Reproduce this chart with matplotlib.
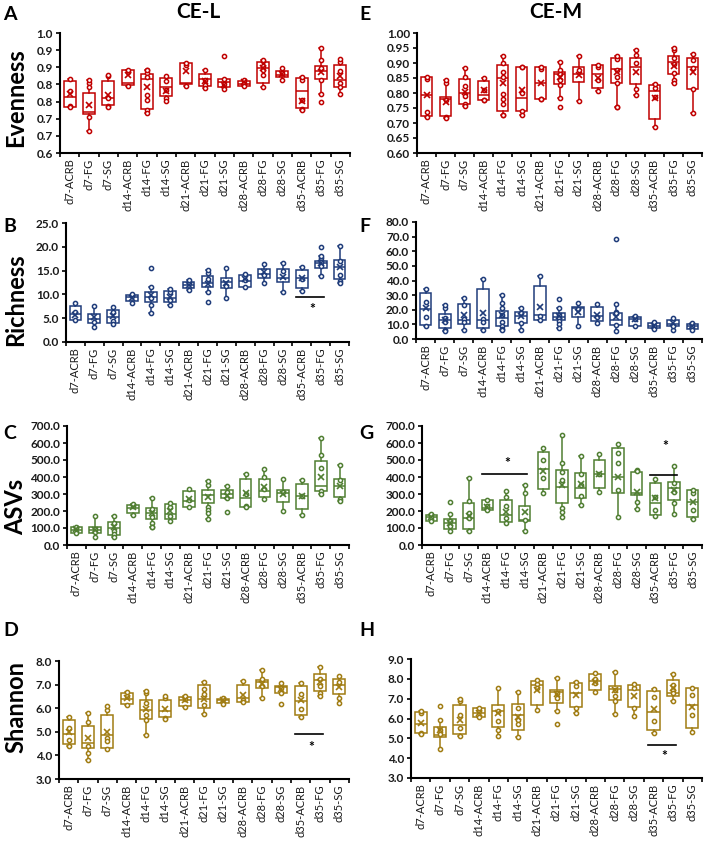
import numpy as np
import matplotlib
matplotlib.use("Agg")
import matplotlib.pyplot as plt

plt.rcParams['font.family'] = ['Lato', 'DejaVu Sans']

groups = ["d7-ACRB", "d7-FG", "d7-SG", "d14-ACRB", "d14-FG", "d14-SG",
          "d21-ACRB", "d21-FG", "d21-SG", "d28-ACRB", "d28-FG", "d28-SG",
          "d35-ACRB", "d35-FG", "d35-SG"]

# ---- CE-L evenness (A)
A_wh = [0.817, 0.812, 0.828, 0.843, 0.843, 0.825, 0.863, 0.843, 0.817, 0.814, 0.872, 0.848, 0.821, 0.905, 0.874]
A_q3 = [0.811, 0.774, 0.811, 0.843, 0.831, 0.820, 0.862, 0.831, 0.817, 0.811, 0.866, 0.838, 0.819, 0.853, 0.856]
A_med = [0.762, 0.721, 0.760, 0.803, 0.817, 0.792, 0.803, 0.817, 0.806, 0.802, 0.848, 0.828, 0.782, 0.838, 0.814]
A_q1 = [0.733, 0.713, 0.740, 0.799, 0.727, 0.765, 0.800, 0.794, 0.792, 0.796, 0.804, 0.821, 0.730, 0.816, 0.792]
A_wl = [0.733, 0.664, 0.735, 0.794, 0.718, 0.753, 0.796, 0.789, 0.786, 0.794, 0.792, 0.812, 0.725, 0.772, 0.772]
A_mean = [0.772, 0.740, 0.770, 0.828, 0.792, 0.782, 0.838, 0.809, 0.799, 0.807, 0.848, 0.831, 0.753, 0.835, 0.825]
A_pts = [[0.782, 0.737], [0.804, 0.792, 0.706], [0.825, 0.760, 0.737], [0.835],
         [0.841, 0.833, 0.822, 0.770, 0.755, 0.725], [0.809, 0.784, 0.760], [0.858],
         [0.814, 0.799], [0.884, 0.801], [0.805], [0.868, 0.855, 0.841, 0.828], [0.833],
         [0.812, 0.755, 0.727], [0.872, 0.848, 0.814, 0.748], [0.865, 0.840, 0.804, 0.792]]

# ---- CE-M evenness (E)
E_wh = [0.855, 0.843, 0.883, 0.849, 0.925, 0.888, 0.888, 0.905, 0.924, 0.892, 0.925, 0.942, 0.829, 0.950, 0.931]
E_q3 = [0.855, 0.788, 0.847, 0.841, 0.894, 0.888, 0.888, 0.871, 0.888, 0.892, 0.916, 0.918, 0.827, 0.922, 0.918]
E_med = [0.793, 0.779, 0.801, 0.793, 0.851, 0.784, 0.832, 0.864, 0.864, 0.864, 0.879, 0.886, 0.808, 0.905, 0.888]
E_q1 = [0.723, 0.723, 0.765, 0.776, 0.741, 0.740, 0.779, 0.829, 0.838, 0.816, 0.835, 0.830, 0.712, 0.864, 0.813]
E_wl = [0.720, 0.718, 0.758, 0.776, 0.726, 0.726, 0.779, 0.785, 0.774, 0.808, 0.754, 0.795, 0.687, 0.832, 0.732]
E_mean = [0.793, 0.771, 0.804, 0.810, 0.832, 0.810, 0.832, 0.852, 0.860, 0.849, 0.871, 0.871, 0.782, 0.890, 0.871]
E_pts = [[0.847, 0.737], [0.832, 0.776, 0.720], [0.853, 0.823, 0.790, 0.762], [0.810, 0.778],
         [0.899, 0.871, 0.855, 0.797, 0.780, 0.763, 0.726], [0.888, 0.801, 0.740], [0.879, 0.779],
         [0.876, 0.865, 0.843, 0.827, 0.752], [0.876], [0.888, 0.843],
         [0.913, 0.877, 0.855, 0.833, 0.754], [0.926, 0.899, 0.813], [0.818, 0.787],
         [0.944, 0.916, 0.897, 0.868, 0.843], [0.910, 0.883, 0.812]]

# ---- CE-L richness (B)
B_wh = [8.1, 7.5, 7.3, 10.0, 11.6, 11.1, 13.0, 15.1, 15.6, 14.3, 16.4, 16.5, 15.8, 18.1, 20.2]
B_q3 = [7.5, 5.8, 6.8, 9.9, 10.6, 10.8, 12.7, 13.9, 13.5, 14.1, 15.3, 15.3, 15.1, 17.0, 17.2]
B_med = [5.8, 4.9, 5.3, 9.5, 9.5, 9.2, 12.0, 12.5, 12.7, 12.8, 14.3, 13.4, 13.5, 16.5, 15.8]
B_q1 = [4.7, 4.0, 3.9, 8.6, 8.4, 8.4, 11.3, 11.5, 11.3, 11.5, 13.5, 12.7, 11.4, 15.5, 13.2]
B_wl = [4.7, 3.2, 3.7, 8.2, 6.0, 7.7, 10.9, 10.6, 9.3, 11.5, 12.3, 10.6, 10.7, 13.9, 12.3]
B_mean = [5.6, 5.3, 5.4, 9.3, 9.9, 9.4, 12.0, 12.2, 12.5, 13.2, 14.8, 13.7, 13.5, 16.5, 15.8]
B_pts = [[6.4], [4.3], [6.2, 4.4], [9.6], [15.5, 9.2, 7.8], [10.5, 8.8], [12.3],
         [14.5, 13.3, 8.4], [11.8], [13.0], [14.0], [15.0], [13.3],
         [19.9, 17.6, 16.9, 16.0], [17.0, 14.0, 12.9]]

# ---- CE-M richness (F)
F_wh = [34.0, 23.3, 27.9, 41.0, 30.1, 21.1, 43.1, 21.1, 24.9, 24.0, 24.0, 15.4, 11.3, 14.3, 10.9]
F_q3 = [31.7, 17.2, 24.0, 34.0, 19.3, 18.8, 36.3, 17.7, 21.8, 21.8, 18.1, 15.0, 10.9, 12.7, 10.4]
F_med = [20.4, 13.1, 13.1, 13.1, 14.3, 15.9, 16.5, 15.0, 21.1, 15.4, 13.1, 13.6, 9.1, 10.4, 8.6]
F_q1 = [9.7, 7.5, 10.4, 7.5, 8.6, 10.9, 12.7, 12.7, 15.0, 12.0, 9.7, 9.1, 7.5, 9.1, 6.8]
F_wl = [9.1, 5.2, 6.3, 6.3, 6.3, 6.3, 12.7, 7.5, 9.1, 10.9, 5.2, 8.6, 7.0, 8.6, 5.9]
F_mean = [21.1, 13.1, 16.5, 18.1, 16.5, 15.4, 21.8, 15.4, 18.8, 16.5, 15.0, 13.6, 8.6, 10.9, 8.6]
F_pts = [[25.6, 15.0], [21.3, 14.5, 11.3, 6.3], [23.3, 14.0, 11.8], [14.0, 11.8],
         [24.3, 21.0, 16.5, 11.8, 8.6, 6.8], [18.1, 10.9], [15.4],
         [27.2, 16.5, 14.3, 12.0, 10.4], [20.4], [15.0], [68.7, 18.8, 17.7, 9.7],
         [13.6], [8.6], [6.3], [8.6]]

# ---- CE-L ASVs (C)
C_wh = [108, 171, 171, 239, 275, 249, 327, 376, 347, 416, 447, 386, 382, 627, 471]
C_q3 = [104, 108, 137, 235, 220, 239, 318, 324, 324, 388, 386, 324, 359, 494, 386]
C_med = [88, 88, 98, 216, 190, 182, 261, 294, 298, 278, 318, 304, 288, 347, 347]
C_q1 = [69, 73, 59, 190, 153, 153, 226, 249, 275, 222, 280, 255, 210, 318, 280]
C_wl = [69, 45, 49, 176, 108, 143, 222, 151, 275, 222, 269, 202, 176, 300, 261]
C_mean = [92, 88, 108, 225, 186, 202, 269, 280, 288, 308, 339, 300, 288, 402, 347]
C_pts = [[100], [95, 75], [127, 84, 65], [229], [210, 167, 128, 104], [226, 171], [262],
         [355, 226, 206, 186], [310, 196], [231, 300], [400, 330], [310], [288],
         [527, 453, 318], [382, 269]]

# ---- CE-M ASVs (G)
G_wh = [182, 182, 396, 265, 318, 353, 569, 647, 524, 533, 594, 437, 386, 465, 324]
G_q3 = [176, 153, 249, 265, 265, 229, 549, 441, 425, 500, 573, 427, 363, 373, 324]
G_med = [163, 127, 157, 216, 176, 147, 445, 343, 333, 418, 398, 304, 249, 333, 255]
G_q1 = [141, 94, 92, 206, 137, 141, 329, 245, 278, 333, 308, 294, 176, 265, 163]
G_wl = [141, 84, 84, 206, 127, 84, 308, 163, 235, 314, 163, 210, 171, 182, 151]
G_mean = [163, 127, 171, 225, 196, 196, 437, 353, 359, 418, 402, 314, 275, 324, 255]
G_pts = [[165], [255, 140, 110], [257, 190, 160], [230], [280, 230, 160], [304, 150],
         [500, 392], [480, 431, 382, 216, 196], [416, 355, 290], [420], [539, 484, 324],
         [440, 255], [284, 206], [363, 314, 245], [304, 204]]

# ---- CE-L Shannon (D)
D_wh = [5.61, 5.81, 6.09, 6.69, 6.72, 6.51, 6.51, 7.11, 6.44, 7.16, 7.63, 7.07, 7.07, 7.75, 7.35]
D_q3 = [5.50, 5.25, 5.71, 6.66, 6.34, 6.34, 6.48, 6.97, 6.41, 7.00, 7.18, 6.93, 6.93, 7.46, 7.25]
D_med = [4.91, 4.54, 4.87, 6.41, 5.92, 5.89, 6.34, 6.41, 6.34, 6.45, 7.09, 6.88, 6.30, 7.18, 6.97]
D_q1 = [4.49, 4.31, 4.33, 6.16, 5.54, 5.64, 6.09, 5.99, 6.24, 6.27, 6.86, 6.65, 5.71, 6.72, 6.59]
D_wl = [4.40, 3.79, 4.26, 6.13, 4.87, 5.53, 6.06, 5.75, 6.17, 6.27, 6.45, 6.65, 5.64, 6.51, 6.20]
D_mean = [5.01, 4.73, 5.01, 6.45, 5.95, 5.95, 6.34, 6.41, 6.34, 6.55, 7.04, 6.83, 6.34, 7.11, 6.90]
D_pts = [[5.15, 4.66], [5.42, 4.40, 4.09], [5.92, 4.73, 4.59], [6.50], [6.65, 6.20, 5.71, 5.50],
         [6.45, 5.60], [6.40], [6.83, 6.62, 6.13], [6.38], [6.35], [7.25, 6.95],
         [6.85, 6.17], [6.62, 5.95], [7.25, 6.95, 6.65], [7.10, 6.45]]

# ---- CE-M Shannon (H)
H_wh = [6.39, 5.90, 6.99, 6.52, 7.53, 7.36, 7.94, 8.03, 7.86, 8.31, 8.36, 7.73, 7.49, 8.25, 7.56]
H_q3 = [6.35, 5.56, 6.69, 6.52, 6.69, 6.74, 7.89, 7.44, 7.78, 8.23, 7.66, 7.69, 7.41, 7.94, 7.53]
H_med = [5.73, 5.18, 5.68, 6.30, 6.40, 6.18, 7.69, 7.36, 7.31, 7.89, 7.47, 7.44, 6.35, 7.31, 6.69]
H_q1 = [5.26, 5.06, 5.21, 6.10, 5.56, 5.40, 6.69, 6.80, 6.57, 7.44, 6.94, 6.57, 5.43, 7.14, 5.51]
H_wl = [5.23, 4.46, 5.13, 6.10, 5.13, 5.06, 6.44, 6.40, 6.27, 7.36, 6.22, 6.13, 5.26, 6.89, 5.30]
H_mean = [5.77, 5.43, 5.93, 6.30, 6.27, 6.10, 7.44, 7.24, 7.19, 7.86, 7.44, 7.11, 6.47, 7.53, 6.57]
H_pts = [[6.30, 5.25], [6.64, 5.40, 5.20], [6.90, 6.20, 5.50], [6.40], [6.40, 5.85, 5.40],
         [6.55, 5.90, 5.70], [7.75, 7.55], [7.30, 7.05, 5.72], [7.65, 6.55], [8.00, 7.80],
         [7.45, 7.15, 6.90], [7.55, 6.55], [7.10, 5.85], [7.70, 7.45, 7.30], [7.20, 6.20]]

# y axes (Excel-style rounded labels on panel A)
A_ticks = [0.60, 0.65, 0.70, 0.75, 0.80, 0.85, 0.90, 0.95]
A_ticklabels = ["0.6", "0.7", "0.7", "0.8", "0.8", "0.9", "0.9", "1.0"]
E_ticks = [0.60, 0.65, 0.70, 0.75, 0.80, 0.85, 0.90, 0.95, 1.00]
B_ticks = [0, 5, 10, 15, 20, 25]
F_ticks = [0, 10, 20, 30, 40, 50, 60, 70, 80]
CG_ticks = [0, 100, 200, 300, 400, 500, 600, 700]
D_ticks = [3, 4, 5, 6, 7, 8]
H_ticks = [3, 4, 5, 6, 7, 8, 9]

# significance bars: (left group, right group, bar y, star y)
B_sig = [(12, 13, 9.5, 6.9)]
G_sig = [(3, 5, 416, 480), (12, 13, 412, 582)]
D_sig = [(12, 13, 4.90, 4.35)]
H_sig = [(12, 13, 4.68, 4.09)]

red = "#C00000"
blue = "#1F3C7A"
green = "#507E32"
gold = "#A07C12"

W, H = 708, 842
fig = plt.figure(figsize=(W / 100, H / 100), dpi=100)


def make_ax(left, right, top, bottom):
    return fig.add_axes([left / W, 1 - bottom / H, (right - left) / W, (bottom - top) / H])


def draw_panel(ax, wl, q1, med, q3, wh, mean, pts, color, ticks, ticklabels, sig=()):
    stats = []
    for i in range(len(groups)):
        stats.append(dict(whislo=wl[i], q1=q1[i], med=med[i], q3=q3[i], whishi=wh[i],
                          mean=mean[i], fliers=[]))
    x = np.arange(len(groups))
    ax.bxp(stats, positions=x, widths=0.62, showmeans=False, showfliers=False,
           patch_artist=True, capwidths=0.16,
           boxprops=dict(facecolor="white", edgecolor=color, linewidth=1.1),
           medianprops=dict(color=color, linewidth=1.1),
           whiskerprops=dict(color=color, linewidth=1.1),
           capprops=dict(color=color, linewidth=1.1))
    for i in range(len(groups)):
        yy = list(pts[i]) + [wl[i], wh[i]]
        ax.plot([x[i]] * len(yy), yy, "o", ms=3.0, mfc="white", mec=color, mew=1.1, zorder=4)
    ax.plot(x, mean, "x", ms=5, color=color, mew=1.2, zorder=5)
    for g0, g1, yb, ys in sig:
        ax.plot([g0 - 0.3, g1 + 0.15], [yb, yb], color="black", lw=1.2)
        ax.text((g0 + g1) / 2 + 0.05, ys, "*", ha="center", va="center", fontsize=10,
                fontweight="bold")
    ax.set_xlim(-0.5, len(groups) - 0.5)
    ax.set_ylim(ticks[0], ticks[-1])
    ax.set_yticks(ticks)
    ax.set_yticklabels(ticklabels, fontsize=8.5, fontweight="bold", color="#1a1a1a")
    ax.set_xticks(x)
    ax.set_xticklabels(groups, rotation=90, fontsize=8, color="#1a1a1a")
    ax.set_xticks(np.arange(len(groups) + 1) - 0.5, minor=True)
    ax.tick_params(axis="x", which="major", length=0, pad=4)
    ax.tick_params(axis="x", which="minor", length=3, width=1.2, direction="out")
    ax.tick_params(axis="y", length=3, width=1.2, direction="out", pad=2)
    for s in ["top", "right"]:
        ax.spines[s].set_visible(False)
    for s in ["left", "bottom"]:
        ax.spines[s].set_linewidth(1.5)


def fmt(ticks, f):
    return [f % t for t in ticks]


axA = make_ax(60, 350, 33, 153)
draw_panel(axA, A_wl, A_q1, A_med, A_q3, A_wh, A_mean, A_pts, red, A_ticks, A_ticklabels)
axE = make_ax(417, 702, 33, 153)
draw_panel(axE, E_wl, E_q1, E_med, E_q3, E_wh, E_mean, E_pts, red, E_ticks, fmt(E_ticks, "%.2f"))
axB = make_ax(66, 349, 223, 342)
draw_panel(axB, B_wl, B_q1, B_med, B_q3, B_wh, B_mean, B_pts, blue, B_ticks, fmt(B_ticks, "%.1f"), B_sig)
axF = make_ax(416, 702, 222, 339)
draw_panel(axF, F_wl, F_q1, F_med, F_q3, F_wh, F_mean, F_pts, blue, F_ticks, fmt(F_ticks, "%.1f"))
axC = make_ax(67, 349, 426, 545)
draw_panel(axC, C_wl, C_q1, C_med, C_q3, C_wh, C_mean, C_pts, green, CG_ticks, fmt(CG_ticks, "%.1f"))
axG = make_ax(422, 702, 426, 545)
draw_panel(axG, G_wl, G_q1, G_med, G_q3, G_wh, G_mean, G_pts, green, CG_ticks, fmt(CG_ticks, "%.1f"), G_sig)
axD = make_ax(59, 349, 661, 779)
draw_panel(axD, D_wl, D_q1, D_med, D_q3, D_wh, D_mean, D_pts, gold, D_ticks, fmt(D_ticks, "%.1f"), D_sig)
axH = make_ax(411, 702, 659, 778)
draw_panel(axH, H_wl, H_q1, H_med, H_q3, H_wh, H_mean, H_pts, gold, H_ticks, fmt(H_ticks, "%.1f"), H_sig)

# panel letters, column titles, row labels
for letter, px, py in [("A", 3, 14), ("B", 3, 226), ("C", 3, 433), ("D", 3, 630),
                       ("E", 359, 14), ("F", 359, 226), ("G", 359, 433), ("H", 359, 630)]:
    fig.text(px / W, 1 - py / H, letter, fontsize=14, fontweight="bold", va="center", ha="left")
fig.text(198 / W, 1 - 12 / H, "CE-L", fontsize=15, fontweight="bold", ha="center", va="center")
fig.text(556 / W, 1 - 12 / H, "CE-M", fontsize=15, fontweight="bold", ha="center", va="center")
for lab, py in [("Evenness", 98), ("Richness", 300), ("ASVs", 507), ("Shannon", 707)]:
    fig.text(16 / W, 1 - py / H, lab, fontsize=17, fontweight="bold", rotation=90,
             ha="center", va="center")

fig.savefig("out.png", dpi=100)
